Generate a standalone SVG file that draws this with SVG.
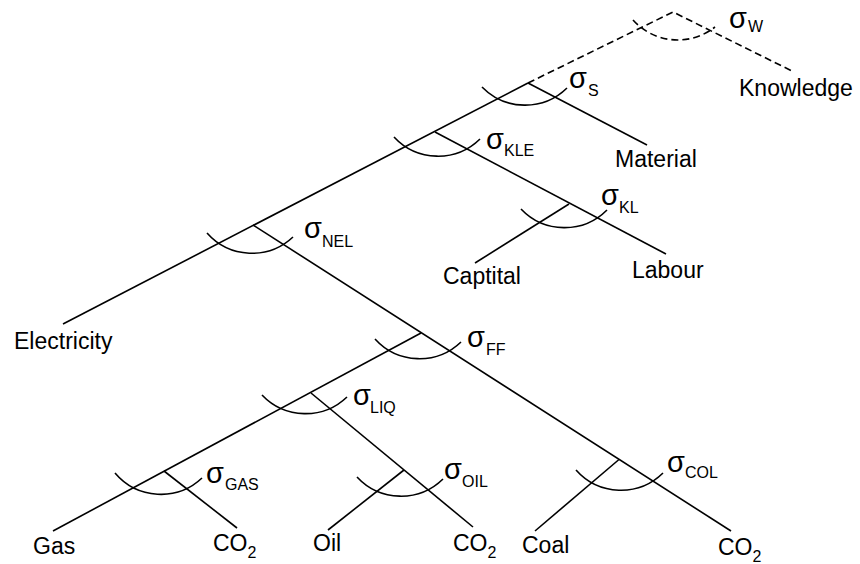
<svg xmlns="http://www.w3.org/2000/svg" width="860" height="564" viewBox="0 0 860 564">
<style>
.ln{stroke:#000;stroke-width:1.6;fill:none}
.dash{stroke-dasharray:7 4}
.t{font-family:"Liberation Sans",Arial,sans-serif;font-size:23px;fill:#000}
.g{font-family:"Liberation Sans",Arial,sans-serif;font-size:29px;fill:#000}
.s{font-family:"Liberation Sans",Arial,sans-serif;font-size:16px;fill:#000}
</style>
<rect width="860" height="564" fill="#fff"/>
<g id="connectors">
<path class="ln dash" d="M528,83 L673,12 L792,71"/>
<path class="ln dash" d="M633,20 A60,60 0 0 0 715,27"/>
<path class="ln" d="M63,324 L528,83"/>
<path class="ln" d="M528,83 L647,145"/>
<path class="ln" d="M435,132 L666,254"/>
<path class="ln" d="M569,204 L475,263"/>
<path class="ln" d="M253,225 L731,531"/>
<path class="ln" d="M421,333 L53,531"/>
<path class="ln" d="M311,393 L473,527"/>
<path class="ln" d="M404,470 L328,530"/>
<path class="ln" d="M164,471 L237,528"/>
<path class="ln" d="M619,459.5 L535,531"/>
<path class="ln" d="M482,87 A60,60 0 0 0 567,88"/>
<path class="ln" d="M394,137 A60,60 0 0 0 480,139"/>
<path class="ln" d="M521,209 A60,60 0 0 0 607,210"/>
<path class="ln" d="M207,233 A60,60 0 0 0 293,237"/>
<path class="ln" d="M375,339 A60,60 0 0 0 461,342"/>
<path class="ln" d="M262,395 A60,60 0 0 0 347,397"/>
<path class="ln" d="M115,473 A60,60 0 0 0 202,478"/>
<path class="ln" d="M357,477 A60,60 0 0 0 443,479"/>
<path class="ln" d="M576,470 A60,60 0 0 0 663,473"/>
</g>
<g id="node-W"><text class="g" x="729" y="28">σ</text><text class="s" x="748" y="32">W</text></g>
<g id="node-S"><text class="g" x="569" y="88">σ</text><text class="s" x="588" y="96">S</text></g>
<g id="node-KLE"><text class="g" x="486" y="149">σ</text><text class="s" x="504" y="156">KLE</text></g>
<g id="node-KL"><text class="g" x="601" y="205">σ</text><text class="s" x="619" y="213">KL</text></g>
<g id="node-NEL"><text class="g" x="304" y="238">σ</text><text class="s" x="322" y="247">NEL</text></g>
<g id="node-FF"><text class="g" x="467" y="347">σ</text><text class="s" x="486" y="355">FF</text></g>
<g id="node-LIQ"><text class="g" x="353" y="405">σ</text><text class="s" x="370" y="413">LIQ</text></g>
<g id="node-GAS"><text class="g" x="206" y="483">σ</text><text class="s" x="225" y="490">GAS</text></g>
<g id="node-OIL"><text class="g" x="444" y="479">σ</text><text class="s" x="462" y="487">OIL</text></g>
<g id="node-COL"><text class="g" x="667" y="472">σ</text><text class="s" x="685" y="478">COL</text></g>
<g id="node-knowledge"><text class="t" x="739" y="96">Knowledge</text></g>
<g id="node-material"><text class="t" x="615" y="167">Material</text></g>
<g id="node-captial"><text class="t" x="443" y="284">Captital</text></g>
<g id="node-labour"><text class="t" x="632" y="278">Labour</text></g>
<g id="node-electricity"><text class="t" x="14" y="349">Electricity</text></g>
<g id="node-gas"><text class="t" x="33" y="554">Gas</text></g>
<g id="node-co2-gas"><text class="t" x="213" y="551">CO<tspan class="s" dy="7">2</tspan></text></g>
<g id="node-oil"><text class="t" x="313" y="551">Oil</text></g>
<g id="node-co2-oil"><text class="t" x="453" y="551">CO<tspan class="s" dy="7">2</tspan></text></g>
<g id="node-coal"><text class="t" x="522" y="553">Coal</text></g>
<g id="node-co2-coal"><text class="t" x="718" y="555">CO<tspan class="s" dy="7">2</tspan></text></g>
</svg>
